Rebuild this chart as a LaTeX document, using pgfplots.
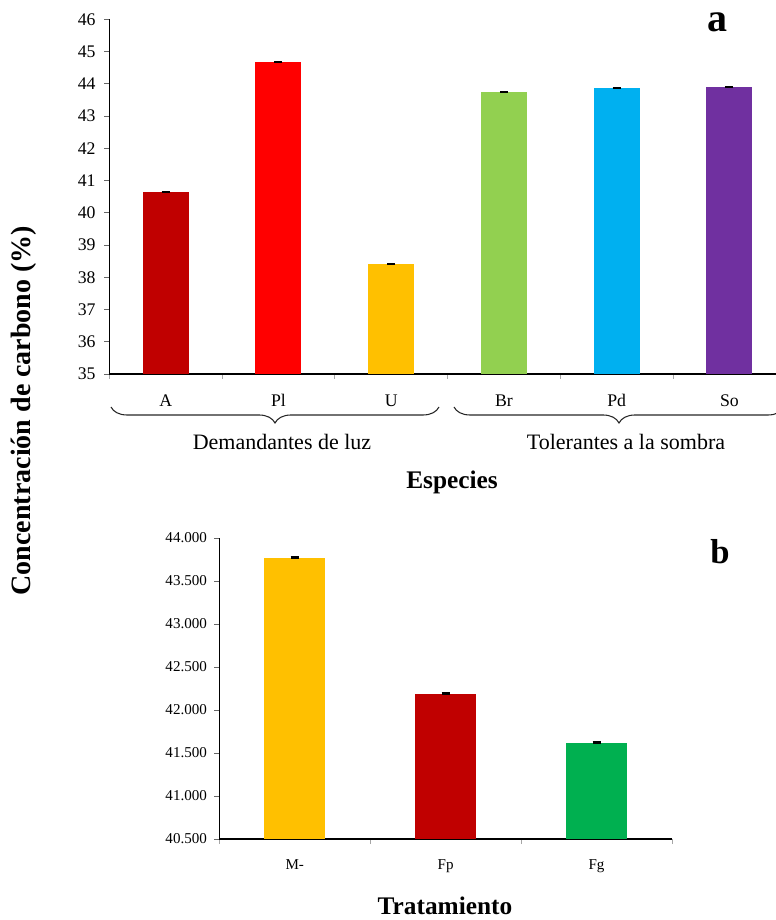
\documentclass[border=0pt]{standalone}
\usepackage{fontspec}
\setmainfont{Liberation Serif}
\usepackage{pgfplots}
\pgfplotsset{compat=1.18}
\usetikzlibrary{decorations.pathreplacing}

\definecolor{cA}{HTML}{C00000}
\definecolor{cPl}{HTML}{FF0000}
\definecolor{cU}{HTML}{FFC000}
\definecolor{cBr}{HTML}{92D050}
\definecolor{cPd}{HTML}{00B0F0}
\definecolor{cSo}{HTML}{7030A0}
\definecolor{cFg}{HTML}{00B050}

\pgfplotsset{
  panel/.style={
    scale only axis,
    axis x line*=bottom, axis y line*=left,
    axis line style={-, line width=0.8pt, black},
    tick align=outside,
    major tick length=3.75pt, minor tick length=3.75pt,
    major x tick style={draw=none},
    minor x tick style={gray!70, line width=0.6pt},
    y tick style={gray!80!black, line width=0.6pt},
    /pgf/number format/assume math mode=true,
    ybar, bar shift=0pt,
    clip=true,
  },
  errbar/.style={
    draw=none, fill=#1,
    error bars/.cd, y dir=both, y explicit,
    error mark=|,
    error bar style={black, line width=1pt},
    error mark options={black, line width=1.2pt, mark size=3pt},
  },
}

\begin{document}
\begin{tikzpicture}[x=0.75pt,y=0.75pt]
\useasboundingbox (0,0) rectangle (775,920);

% (a) carbon concentration by species
\begin{axis}[panel,
  at={(81.975pt,409.5pt)}, anchor=south west,
  width=507.4pt, height=266pt,
  xmin=-0.5, xmax=5.5, ymin=35, ymax=46,
  bar width=34.5pt,
  xtick={0,...,5}, xticklabels={A,Pl,U,Br,Pd,So},
  minor xtick={-0.5,0.5,...,5.5},
  ytick={35,...,46},
  xticklabel style={font=\fontsize{13.3}{15}\selectfont, anchor=base, yshift=-21pt},
  yticklabel style={font=\fontsize{13.3}{15}\selectfont, xshift=-3pt},
]
\addplot[errbar=cA]  coordinates {(0,40.64) +- (0,0.012)};
\addplot[errbar=cPl] coordinates {(1,44.67) +- (0,0.012)};
\addplot[errbar=cU]  coordinates {(2,38.42) +- (0,0.012)};
\addplot[errbar=cBr] coordinates {(3,43.74) +- (0,0.012)};
\addplot[errbar=cPd] coordinates {(4,43.87) +- (0,0.012)};
\addplot[errbar=cSo] coordinates {(5,43.90) +- (0,0.012)};
\end{axis}

% (b) carbon concentration by treatment
\begin{axis}[panel,
  at={(164.475pt,60.75pt)}, anchor=south west,
  width=339.5pt, height=225.75pt,
  xmin=-0.5, xmax=2.5, ymin=40.5, ymax=44,
  bar width=45.75pt,
  xtick={0,1,2}, xticklabels={M-,Fp,Fg},
  minor xtick={-0.5,0.5,...,2.5},
  ytick={40.5,41,...,44},
  yticklabel style={font=\fontsize{11.3}{13}\selectfont, xshift=-2pt,
    /pgf/number format/.cd, fixed, fixed zerofill, precision=3},
  xticklabel style={font=\fontsize{11.3}{13}\selectfont, anchor=base, yshift=-19pt},
]
\addplot[errbar=cU]  coordinates {(0,43.77) +- (0,0.008)};
\addplot[errbar=cA]  coordinates {(1,42.19) +- (0,0.008)};
\addplot[errbar=cFg] coordinates {(2,41.62) +- (0,0.008)};
\end{axis}

% group braces under panel (a)
\draw[decorate, decoration={brace, mirror, amplitude=12pt}, line width=0.8pt, black!85]
  (111,513) -- (439,513);
\draw[decorate, decoration={brace, mirror, amplitude=12pt}, line width=0.8pt, black!85]
  (454,513) -- (784,513);
\node[anchor=base, font=\fontsize{16.5}{19}\selectfont] at (282,470) {Demandantes de luz};
\node[anchor=base, font=\fontsize{16.5}{19}\selectfont] at (626,470) {Tolerantes a la sombra};

% axis titles
\node[anchor=base, font=\bfseries\fontsize{19}{22}\selectfont] at (452,431.5) {Especies};
\node[anchor=base, font=\bfseries\fontsize{19}{22}\selectfont] at (445,5) {Tratamiento};
\node[rotate=90, anchor=base west, font=\bfseries\fontsize{21}{24}\selectfont] at (30,320) {Concentración de carbono (\%)};

% panel letters
\node[anchor=base, font=\bfseries\fontsize{30}{34}\selectfont] at (717,888) {a};
\node[anchor=base, font=\bfseries\fontsize{26}{30}\selectfont] at (720,356) {b};
\end{tikzpicture}
\end{document}
